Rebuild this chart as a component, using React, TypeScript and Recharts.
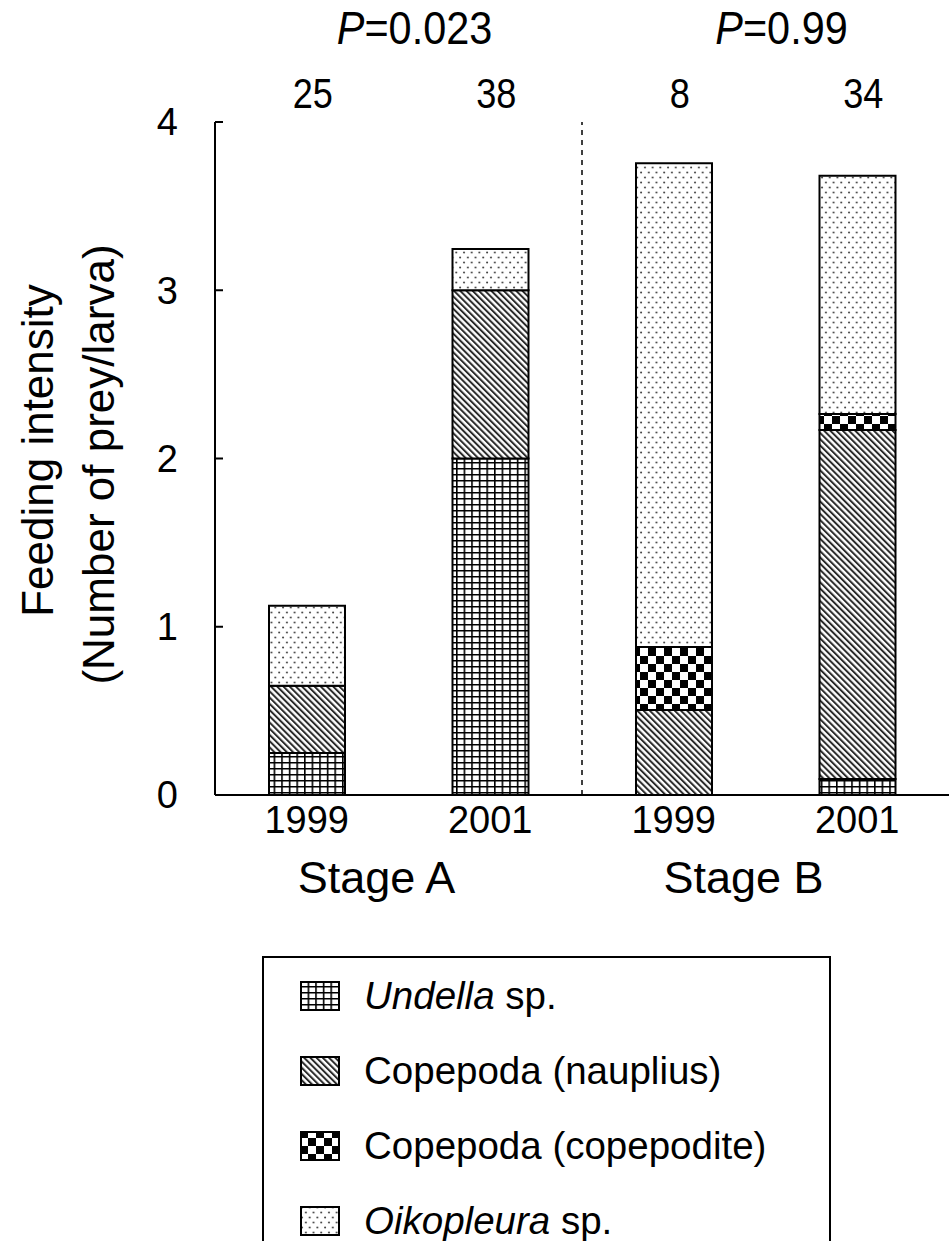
import React from "react";
import {
	Bar,
	BarChart,
	Label,
	ReferenceLine,
	XAxis,
	YAxis,
} from "recharts";

// categories and annotations
const YEARS = ["1999", "2001", "1999", "2001"];
const STAGES = ["Stage A", "Stage B"];
const N_LARVAE = [25, 38, 8, 34];
const P_VALUES = ["0.023", "0.99"];

// prey per larva, stacked bottom -> top
const UNDELLA = [0.25, 2.0, 0, 0.095];
const NAUPLIUS = [0.4, 1.0, 0.505, 2.075];
const COPEPODITE = [0, 0, 0.375, 0.095];
const OIKOPLEURA = [0.475, 0.245, 2.875, 1.415];

const SERIES = [
	{ key: "undella", name: "Undella", italic: true, fill: "url(#pat-grid)" },
	{ key: "nauplius", name: "Copepoda (nauplius)", italic: false, fill: "url(#pat-diag)" },
	{ key: "copepodite", name: "Copepoda (copepodite)", italic: false, fill: "url(#pat-check)" },
	{ key: "oikopleura", name: "Oikopleura", italic: true, fill: "url(#pat-dots)" },
];

const data = YEARS.map((year, i) => ({
	id: `${i}-${year}`,
	stage: STAGES[Math.floor(i / 2)],
	undella: UNDELLA[i],
	nauplius: NAUPLIUS[i],
	copepodite: COPEPODITE[i],
	oikopleura: OIKOPLEURA[i],
}));

const FONT = "'Liberation Sans', Arial, sans-serif";

function Patterns() {
	return (
		<svg width={0} height={0} style={{ position: "absolute" }}>
			<defs>
				<pattern id="pat-grid" width={7.6} height={6} patternUnits="userSpaceOnUse">
					<rect width={7.6} height={6} fill="#fff" />
					<rect x={0} y={0} width={1.6} height={6} fill="#000" />
					<rect x={0} y={0} width={7.6} height={1.5} fill="#000" />
				</pattern>
				<pattern
					id="pat-diag"
					width={4.4}
					height={10}
					patternUnits="userSpaceOnUse"
					patternTransform="rotate(-45)"
				>
					<rect width={4.4} height={10} fill="#fff" />
					<rect x={0} y={0} width={2} height={10} fill="#2a2a2a" />
				</pattern>
				<pattern id="pat-check" width={16} height={16} patternUnits="userSpaceOnUse">
					<rect width={16} height={16} fill="#fff" />
					<rect x={0} y={0} width={8} height={8} fill="#000" />
					<rect x={8} y={8} width={8} height={8} fill="#000" />
				</pattern>
				<pattern id="pat-dots" width={7.7} height={10} patternUnits="userSpaceOnUse">
					<rect width={7.7} height={10} fill="#fff" />
					<circle cx={2} cy={2.5} r={1} fill="#444" />
					<circle cx={5.85} cy={7.5} r={1} fill="#444" />
				</pattern>
			</defs>
		</svg>
	);
}

function YLabelContent(props: any) {
	const vb = props.viewBox || { x: 0, y: 0, width: 0, height: 0 };
	const cy = vb.y + vb.height / 2;
	return (
		<g fontFamily={FONT} fontSize={44} fill="#000">
			<text x={37} y={cy - 8} textAnchor="middle" dominantBaseline="central" transform={`rotate(-90, 37, ${cy - 8})`}>
				Feeding intensity
			</text>
			<text x={98} y={cy + 6} textAnchor="middle" dominantBaseline="central" transform={`rotate(-90, 98, ${cy + 6})`}>
				(Number of prey/larva)
			</text>
		</g>
	);
}

// condensed tick text for the numbers above the plot
function NTick(props: any) {
	const { x, y, index } = props;
	return (
		<text
			transform={`translate(${x + 6}, ${y - 12}) scale(0.86, 1)`}
			textAnchor="middle"
			fontFamily={FONT}
			fontSize={42}
			fill="#000"
		>
			{N_LARVAE[index]}
		</text>
	);
}

function PTick(props: any) {
	const { x, y, index } = props;
	return (
		<text
			transform={`translate(${x + 16}, ${y - 14}) scale(0.9, 1)`}
			textAnchor="middle"
			fontFamily={FONT}
			fontSize={46}
			fill="#000"
		>
			<tspan fontStyle="italic">P</tspan>={P_VALUES[index]}
		</text>
	);
}

export default function App() {
	return (
		<div
			style={{
				position: "absolute",
				left: 0,
				top: 0,
				width: 949,
				height: 1241,
				overflow: "hidden",
				background: "#fff",
				fontFamily: FONT,
			}}
		>
			<Patterns />
			<BarChart
				width={949}
				height={1241}
				data={data}
				margin={{ top: 0, right: 0, bottom: 311, left: 0 }}
				barSize={76}
			>
				{/* sample sizes above bars */}
				<XAxis
					xAxisId="n"
					orientation="top"
					dataKey="id"
					height={62}
					axisLine={false}
					tickLine={false}
					tickSize={0}
					tick={<NTick />}
				/>
				{/* P values per stage */}
				<XAxis
					xAxisId="p"
					orientation="top"
					dataKey="stage"
					allowDuplicatedCategory={false}
					height={60}
					axisLine={false}
					tickLine={false}
					tickSize={0}
					tick={<PTick />}
				/>
				<XAxis
					dataKey="id"
					height={55}
					axisLine={{ stroke: "#000", strokeWidth: 2 }}
					tickLine={false}
					tickSize={0}
					tickMargin={11}
					tick={{ fill: "#000", fontSize: 38 }}
					tickFormatter={(_v: any, i: number) => YEARS[i]}
				/>
				<XAxis
					xAxisId="stage"
					dataKey="stage"
					allowDuplicatedCategory={false}
					height={80}
					axisLine={false}
					tickLine={false}
					tickSize={0}
					tickMargin={11}
					tick={{ fill: "#000", fontSize: 45, dx: -22 }}
				/>
				<YAxis
					width={215}
					domain={[0, 4]}
					ticks={[0, 1, 2, 3, 4]}
					allowDataOverflow
					axisLine={{ stroke: "#000", strokeWidth: 2 }}
					tickLine={{ stroke: "#000", strokeWidth: 2 }}
					tickSize={-8}
					tickMargin={45}
					tick={{ fill: "#000", fontSize: 38 }}
				>
					<Label content={YLabelContent} />
				</YAxis>
				<ReferenceLine
					xAxisId="stage"
					x="Stage A"
					position="end"
					stroke="#000"
					strokeWidth={1.5}
					strokeDasharray="5 5"
				/>
				{SERIES.map((s) => (
					<Bar
						key={s.key}
						dataKey={s.key}
						stackId="prey"
						fill={s.fill}
						stroke="#000"
						strokeWidth={2}
						isAnimationActive={false}
					/>
				))}
			</BarChart>
			{/* legend */}
			<div
				style={{
					position: "absolute",
					left: 262,
					top: 956,
					width: 569,
					height: 320,
					border: "2px solid #000",
					boxSizing: "border-box",
				}}
			>
				{SERIES.map((s, i) => (
					<div
						key={s.key}
						style={{
							position: "absolute",
							left: 36,
							top: 20 + i * 75,
							height: 36,
							display: "flex",
							alignItems: "center",
							fontSize: 38.5,
							whiteSpace: "nowrap",
						}}
					>
						<svg width={40} height={32} style={{ marginRight: 24 }}>
							<rect x={1} y={2} width={38} height={28} fill={s.fill} stroke="#000" strokeWidth={2} />
						</svg>
						{s.italic ? (
							<span>
								<i>{s.name}</i> sp.
							</span>
						) : (
							<span>{s.name}</span>
						)}
					</div>
				))}
			</div>
		</div>
	);
}
